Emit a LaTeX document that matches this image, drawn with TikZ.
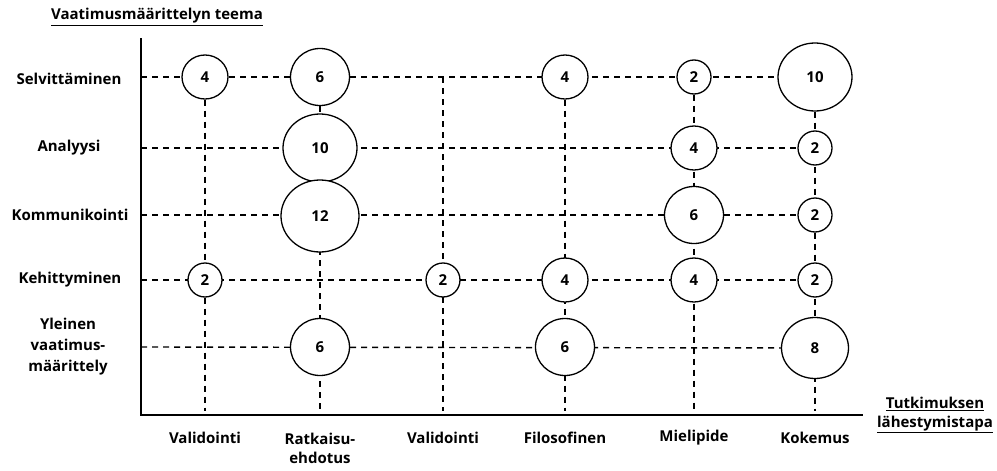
\documentclass[tikz,border=0pt]{standalone}
\usepackage{fontspec}
\setmainfont{Open Sans}
\usepackage{tikz}
\usetikzlibrary{shapes.geometric,backgrounds}

\begin{document}
\begin{tikzpicture}[x=1pt,y=-1pt,
    bubble/.style={draw=black,line width=1.3pt,fill=white,ellipse,inner sep=0pt,font=\bfseries\fontsize{15}{17}\selectfont},
    b2/.style={bubble,minimum width=34pt,minimum height=34pt},
    b4/.style={bubble,minimum width=46pt,minimum height=44pt},
    b6/.style={bubble,minimum width=59pt,minimum height=57pt},
    b8/.style={bubble,minimum width=67pt,minimum height=61pt},
    b10/.style={bubble,minimum width=74pt,minimum height=68pt},
    b12/.style={bubble,minimum width=78pt,minimum height=72pt},
    lbl/.style={align=center,font=\bfseries\fontsize{15}{21}\selectfont},
    grid/.style={dashed,dash pattern=on 6pt off 5pt,line width=1.4pt},
    axis/.style={line width=2pt}
  ]
    \useasboundingbox (0,0) rectangle (997,471);

    % axes
    \coordinate (orig) at (141,415);
    \coordinate (ytop) at (141,38);
    \coordinate (xend) at (863,415);
    \draw[axis] (ytop) -- (orig) -- (xend);

    \node[lbl] (ytitle) at (157,17) {\underline{Vaatimusmäärittelyn teema}};
    \node[lbl] (xtitle) at (935,415) {\underline{Tutkimuksen}\\[-2pt]\underline{lähestymistapa}};

    % row labels
    \node[lbl] (lsel) at (69,79) {Selvittäminen};
    \node[lbl] (lana) at (69,148) {Analyysi};
    \node[lbl] (lkom) at (70,215) {Kommunikointi};
    \node[lbl] (lkeh) at (70,280) {Kehittyminen};
    \node[lbl] (lyle) at (68,347) {Yleinen\\vaatimus-\\määrittely};

    % column labels
    \node[lbl] (lval1) at (205,438) {Validointi};
    \node[lbl] (lrat) at (320,448) {Ratkaisu-\\[-2pt]ehdotus};
    \node[lbl] (lval2) at (443,438) {Validointi};
    \node[lbl] (lfil) at (565,438) {Filosofinen};
    \node[lbl] (lmie) at (694,438) {Mielipide};
    \node[lbl] (lkok) at (815,438) {Kokemus};

    % Selvittäminen
    \node[b4] (s1) at (205,77) {4};
    \node[b6] (s2) at (320,77) {6};
    \coordinate (s3) at (443,77);
    \node[b4] (s4) at (565,77) {4};
    \node[b2] (s5) at (694,77) {2};
    \node[b10] (s6) at (815,77) {10};
    % Analyysi
    \node[b10] (a2) at (320,148) {10};
    \node[b4] (a5) at (694,148) {4};
    \node[b2] (a6) at (815,148) {2};
    % Kommunikointi
    \node[b12] (k2) at (320,216) {12};
    \node[b6] (k5) at (694,215) {6};
    \node[b2] (k6) at (815,215) {2};
    % Kehittyminen
    \node[b2] (h1) at (205,280) {2};
    \node[b2] (h3) at (443,280) {2};
    \node[b4] (h4) at (565,280) {4};
    \node[b4] (h5) at (694,280) {4};
    \node[b2] (h6) at (815,280) {2};
    % Yleinen vaatimusmäärittely
    \node[b6] (y2) at (320,347) {6};
    \node[b6] (y4) at (565,347) {6};
    \node[b8] (y6) at (815,348) {8};

    \begin{pgfonlayer}{background}
      \coordinate (r1) at (141,77);
      \coordinate (r2) at (141,148);
      \coordinate (r3) at (141,215);
      \coordinate (r4) at (141,280);
      \coordinate (r5) at (141,347);
      \draw[grid] (r1) -- (s6);
      \draw[grid] (r2) -- (a6);
      \draw[grid] (r3) -- (k6);
      \draw[grid] (r4) -- (h6);
      \draw[grid] (r5) -- (y6);
      \coordinate (c1) at (205,411);
      \coordinate (c2) at (320,411);
      \coordinate (c3) at (443,411);
      \coordinate (c4) at (565,411);
      \coordinate (c5) at (694,411);
      \coordinate (c6) at (815,411);
      \draw[grid] (s1) -- (c1);
      \draw[grid] (s2) -- (c2);
      \draw[grid] (s3) -- (c3);
      \draw[grid] (s4) -- (c4);
      \draw[grid] (s5) -- (c5);
      \draw[grid] (s6) -- (c6);
    \end{pgfonlayer}
  \end{tikzpicture}
\end{document}
